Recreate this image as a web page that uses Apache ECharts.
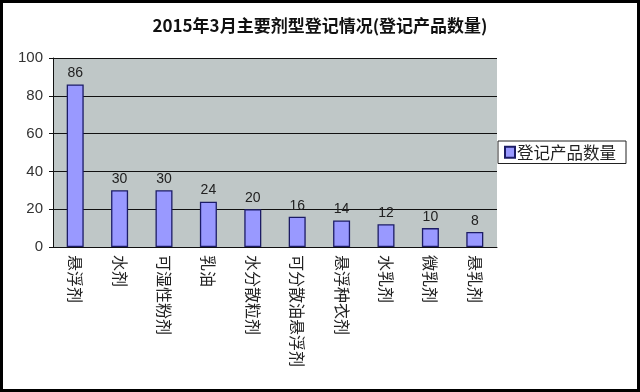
<!DOCTYPE html>
<html>
<head>
<meta charset="utf-8">
<script src="https://cdn.jsdelivr.net/npm/echarts@6/dist/echarts.min.js"></script>
<style>
html,body{margin:0;padding:0;background:#fff;}
#main{width:640px;height:392px;}
</style>
</head>
<body>
<div id="main"></div>
<script>
const categories = ['悬浮剂','水剂','可湿性粉剂','乳油','水分散粒剂','可分散油悬浮剂','悬浮种衣剂','水乳剂','微乳剂','悬乳剂'];
const values = [86,30,30,24,20,16,14,12,10,8];
const seriesName = '登记产品数量';
const titleText = '2015年3月主要剂型登记情况(登记产品数量)';

const chart = echarts.init(document.getElementById('main'));
chart.setOption({
  animation: false,
  backgroundColor: '#fff',
  title: {
    text: titleText,
    left: 'center',
    top: 12,
    textStyle: {fontFamily: 'Noto Sans CJK SC', fontWeight: 'bold', fontSize: 17, color: '#111'}
  },
  legend: {
    data: [seriesName],
    left: 498,
    top: 141,
    orient: 'vertical',
    borderColor: '#222',
    borderWidth: 1,
    padding: [3, 10, 3, 6],
    itemWidth: 10,
    itemHeight: 11,
    itemGap: 0,
    icon: 'rect',
    textStyle: {fontFamily: 'Noto Sans CJK SC', fontSize: 16.5, color: '#222', padding: [0,0,0,-3]}
  },
  grid: {left: 53, right: 143, top: 58, bottom: 145, containLabel: false,
    show: true, backgroundColor: '#bfc7c7', borderWidth: 0},
  xAxis: {
    type: 'category',
    data: categories,
    axisLine: {lineStyle: {color: '#111', width: 1}},
    axisTick: {inside: true, length: 5, lineStyle: {color: '#111'}},
    axisLabel: {rotate: -90, fontFamily: 'Noto Sans CJK SC', fontSize: 16, color: '#222', margin: 8, interval: 0}
  },
  yAxis: {
    type: 'value',
    min: 0, max: 100, interval: 20,
    axisLine: {show: true, lineStyle: {color: '#111', width: 1}},
    axisTick: {show: true, length: 4, lineStyle: {color: '#111'}},
    axisLabel: {fontFamily: 'Liberation Sans', fontSize: 15, color: '#333', margin: 10},
    splitLine: {lineStyle: {color: '#111', width: 1}}
  },
  series: [{
    name: seriesName,
    type: 'bar',
    data: values,
    barWidth: 17,
    itemStyle: {color: '#9999ff', borderColor: '#1c1c66', borderWidth: 1.3},
    label: {show: true, position: 'top', fontFamily: 'Liberation Sans', fontSize: 14, color: '#222', distance: 4}
  }],
  graphic: [{
    type: 'rect',
    shape: {x: 1.5, y: 1.5, width: 637, height: 389},
    style: {fill: 'none', stroke: '#000', lineWidth: 3},
    silent: true
  }]
});
</script>
</body>
</html>
